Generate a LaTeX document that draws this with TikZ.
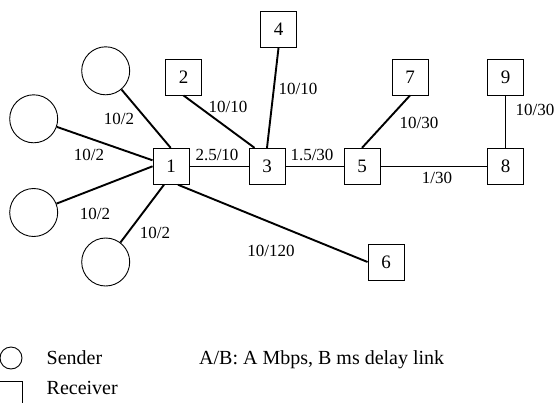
\documentclass[tikz,border=0pt]{standalone}
\usepackage{fontspec}
\setmainfont{Liberation Serif}
\usetikzlibrary{calc}
\begin{document}
\begin{tikzpicture}[x=1pt,y=-1pt,
  rbox/.style={draw,line width=0.9pt,minimum size=36pt,inner sep=0pt,font=\fontsize{19}{22}\selectfont},
  snd/.style={draw,circle,line width=0.9pt,minimum size=48pt,inner sep=0pt},
  thick link/.style={line width=1.9pt},
  thin link/.style={line width=0.9pt},
  lbl/.style={inner sep=0pt,font=\fontsize{17}{20}\selectfont},
  leg/.style={inner sep=0pt,anchor=base west,font=\fontsize{20}{24}\selectfont}]
\clip (0,0) rectangle (560,402);
% senders
\node[snd] (s1) at (105.7,70.8) {};
\node[snd] (s2) at (33.7,118.8) {};
\node[snd] (s3) at (33.7,212.5) {};
\node[snd] (s4) at (105.7,262) {};
% receivers / routers
\node[rbox] (n1) at (171,166.3) {1};
\node[rbox] (n2) at (183.5,77) {2};
\node[rbox] (n3) at (267,166.3) {3};
\node[rbox] (n4) at (278.5,29.5) {4};
\node[rbox] (n5) at (362,166.3) {5};
\node[rbox] (n6) at (386,262) {6};
\node[rbox] (n7) at (410,77) {7};
\node[rbox] (n8) at (505.5,166.3) {8};
\node[rbox] (n9) at (505.5,77) {9};
% anchor points on node 1
\coordinate (a1) at ($(n1.north)+(-0.3,0)$);
\coordinate (a2) at ($(n1.west)+(0,-6)$);
\coordinate (a3) at ($(n1.west)+(0,0)$);
\coordinate (a4) at ($(n1.south)+(-7,0)$);
\coordinate (a6) at ($(n1.south)+(7,0)$);
\coordinate (b3) at ($(n3.north west)+(6,0)$);
% links
\draw[thick link] (s1) -- (a1);
\draw[thick link] (s2) -- (a2);
\draw[thick link] (s3) -- (a3);
\draw[thick link] (s4) -- (a4);
\draw[thick link] (a6) -- (n6.west);
\draw[thin link] (n1.east) -- (n3.west);
\draw[thick link] (n2.south) -- (b3);
\draw[thick link] (n4.south) -- (n3.north);
\draw[thin link] (n3.east) -- (n5.west);
\draw[thick link] (n7.south) -- (n5.north);
\draw[thin link] (n5.east) -- (n8.west);
\draw[thick link] (n9.south) -- (n8.north);
% link labels
\node[lbl] (l1) at (119,119) {10/2};
\node[lbl] (l2) at (89,155) {10/2};
\node[lbl] (l3) at (95,214) {10/2};
\node[lbl] (l4) at (155,233) {10/2};
\node[lbl] (l5) at (217,155) {2.5/10};
\node[lbl] (l6) at (228,107) {10/10};
\node[lbl] (l7) at (298,89) {10/10};
\node[lbl] (l8) at (312,155) {1.5/30};
\node[lbl] (l9) at (419,123) {10/30};
\node[lbl] (l10) at (535,110) {10/30};
\node[lbl] (l11) at (437,178) {1/30};
\node[lbl] (l12) at (271,251) {10/120};
% legend
\node[draw,circle,line width=0.9pt,minimum size=22pt,inner sep=0pt] (legs) at (11,358) {};
\node[draw,line width=0.9pt,minimum size=23pt,inner sep=0pt] (legr) at (10.8,392.5) {};
\node[leg] (ts) at (46.5,364) {Sender};
\node[leg] (tr) at (46.5,394.3) {Receiver};
\node[leg] (ta) at (199,364) {A/B: A Mbps, B ms delay link};
\end{tikzpicture}
\end{document}
